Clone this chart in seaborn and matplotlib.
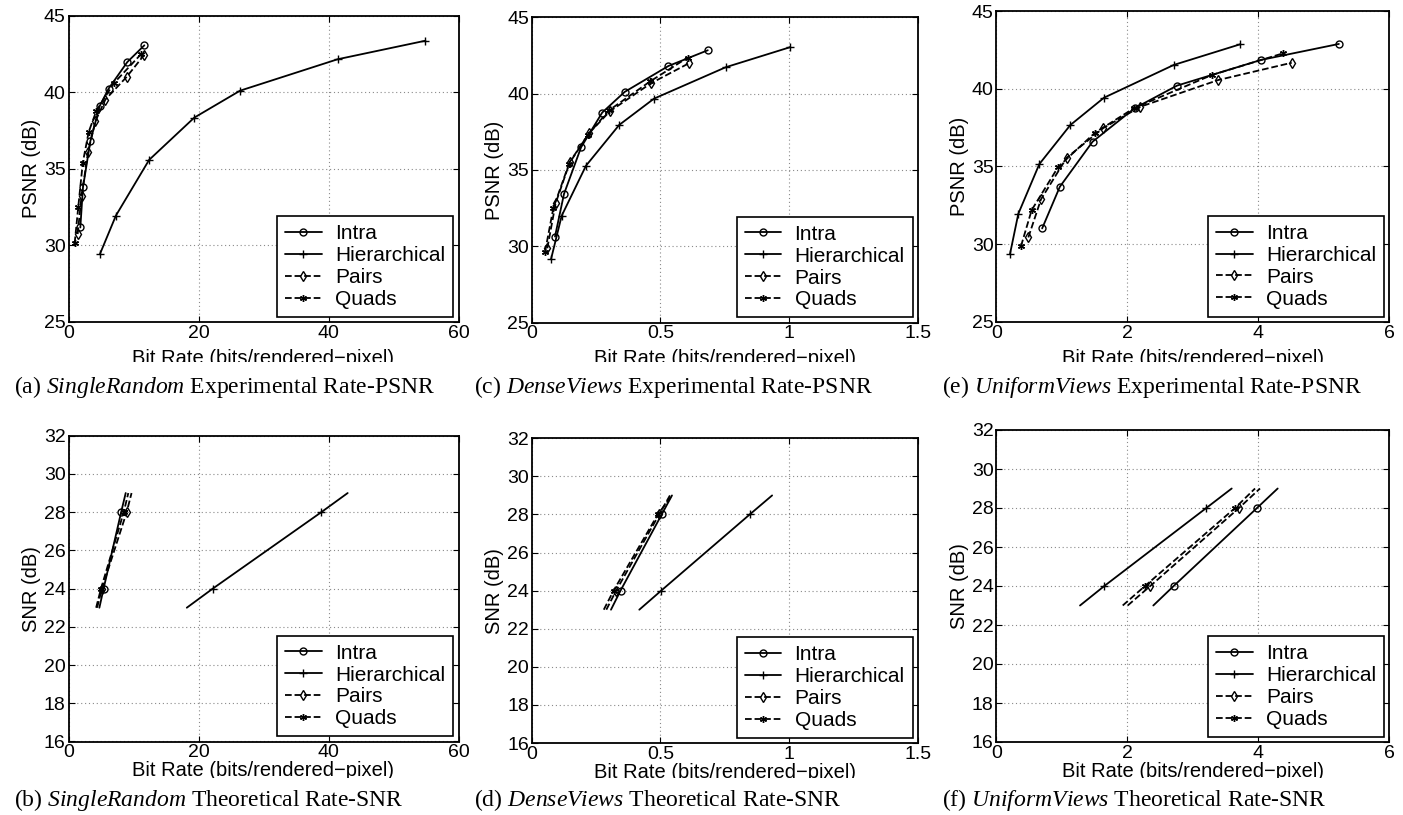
import numpy as np
import pandas as pd
import matplotlib
matplotlib.use("Agg")
import matplotlib.pyplot as plt
import seaborn as sns
from matplotlib.lines import Line2D
from matplotlib.patches import Rectangle

sns.set_theme(style="white")
plt.rcParams['font.family'] = ['Liberation Sans', 'DejaVu Sans']
plt.rcParams['text.color'] = 'black'
plt.rcParams['axes.labelcolor'] = 'black'
plt.rcParams['mathtext.fontset'] = 'custom'
plt.rcParams['mathtext.rm'] = 'Liberation Serif'
plt.rcParams['mathtext.it'] = 'Liberation Serif:italic'

series = ["Intra", "Hierarchical", "Pairs", "Quads"]

# ---------------- (a) SingleRandom experimental ----------------
a_intra_x = [1.82, 2.23, 3.36, 4.8, 6.18, 9.05, 11.67]
a_intra_y = [31.17, 33.8, 36.8, 39.1, 40.24, 41.97, 43.06]
a_hier_x = [4.85, 7.3, 12.4, 19.35, 26.4, 41.4, 54.9]
a_hier_y = [29.45, 31.95, 35.58, 38.34, 40.1, 42.15, 43.36]
a_pairs_x = [1.41, 2.0, 3.0, 4.13, 5.67, 8.95, 11.67]
a_pairs_y = [30.74, 33.2, 36.07, 38.1, 39.52, 41.0, 42.45]
a_quads_x = [0.95, 1.5, 2.2, 3.1, 4.3, 7.0, 11.2]
a_quads_y = [30.15, 32.5, 35.4, 37.4, 38.8, 40.6, 42.5]

# ---------------- (c) DenseViews experimental ----------------
c_intra_x = [0.0905, 0.1255, 0.192, 0.274, 0.361, 0.531, 0.684]
c_intra_y = [30.64, 33.43, 36.49, 38.76, 40.11, 41.81, 42.84]
c_hier_x = [0.075, 0.1165, 0.211, 0.34, 0.475, 0.754, 1.0035]
c_hier_y = [29.15, 32.0, 35.28, 37.95, 39.67, 41.73, 43.04]
c_pairs_x = [0.0607, 0.093, 0.149, 0.2226, 0.304, 0.4635, 0.611]
c_pairs_y = [29.87, 32.82, 35.55, 37.4, 38.85, 40.68, 41.99]
c_quads_x = [0.052, 0.084, 0.145, 0.218, 0.3, 0.46, 0.606]
c_quads_y = [29.65, 32.5, 35.4, 37.3, 38.9, 40.8, 42.36]

# ---------------- (e) UniformViews experimental ----------------
e_intra_x = [0.70, 0.97, 1.47, 2.11, 2.76, 4.04, 5.23]
e_intra_y = [31.01, 33.69, 36.59, 38.74, 40.2, 41.85, 42.88]
e_hier_x = [0.209, 0.336, 0.657, 1.13, 1.644, 2.71, 3.725]
e_hier_y = [29.36, 31.95, 35.15, 37.66, 39.42, 41.53, 42.86]
e_pairs_x = [0.489, 0.682, 1.075, 1.634, 2.2, 3.39, 4.51]
e_pairs_y = [30.43, 32.88, 35.56, 37.47, 38.84, 40.56, 41.67]
e_quads_x = [0.377, 0.54, 0.947, 1.507, 2.1, 3.29, 4.38]
e_quads_y = [29.87, 32.19, 34.98, 37.17, 38.74, 40.88, 42.28]

# ---------------- theoretical (SNR levels shared) ----------------
snr_levels = [23, 24, 28, 29]
b_intra_x = [4.75, 5.4, 8.1, 8.8]
b_hier_x = [18.2, 22.2, 38.9, 42.95]
b_pairs_x = [4.4, 5.15, 8.95, 9.7]
b_quads_x = [4.25, 5.0, 8.5, 9.2]

d_intra_x = [0.308, 0.345, 0.505, 0.545]
d_hier_x = [0.418, 0.503, 0.847, 0.934]
d_pairs_x = [0.29, 0.328, 0.495, 0.537]
d_quads_x = [0.28, 0.318, 0.49, 0.545]

f_intra_x = [2.397, 2.708, 3.98, 4.296]
f_hier_x = [1.278, 1.649, 3.206, 3.594]
f_pairs_x = [2.006, 2.351, 3.705, 4.026]
f_quads_x = [1.93, 2.27, 3.645, 3.95]

captions = [
    ("a", "SingleRandom", "Experimental Rate-PSNR"),
    ("b", "SingleRandom", "Theoretical Rate-SNR"),
    ("c", "DenseViews", "Experimental Rate-PSNR"),
    ("d", "DenseViews", "Theoretical Rate-SNR"),
    ("e", "UniformViews", "Experimental Rate-PSNR"),
    ("f", "UniformViews", "Theoretical Rate-SNR"),
]

ASTER = (6, 2, 0)
styles = {
    "Intra": dict(linestyle="-", marker="o", markersize=5, markerfacecolor="none"),
    "Hierarchical": dict(linestyle="-", marker="+", markersize=6, markerfacecolor="none"),
    "Pairs": dict(linestyle="--", marker="d", markersize=5.5, markerfacecolor="none"),
    "Quads": dict(linestyle="--", marker=ASTER, markersize=5, markerfacecolor="none"),
}

W, H = 1403, 815
fig = plt.figure(figsize=(W / 100, H / 100), dpi=100)


def px_axes(left, top, right, bottom):
    return fig.add_axes([left / W, 1 - bottom / H, (right - left) / W, (bottom - top) / H])


FS = 14
LW = 1.3


def style_axes(ax, xlim, xticks, ylim, yticks, ylabel, xlabelpad):
    ax.set_xlim(*xlim)
    ax.set_ylim(*ylim)
    ax.set_xticks(xticks)
    ax.set_yticks(yticks)
    ax.set_xticklabels([("%g" % t) for t in xticks], fontsize=FS)
    ax.set_yticklabels([("%g" % t) for t in yticks], fontsize=FS)
    ax.grid(True, linestyle=(0, (1, 2.5)), color="#8a8a8a", linewidth=0.8)
    ax.set_axisbelow(True)
    for s in ax.spines.values():
        s.set_color("black")
        s.set_linewidth(1.3)
        s.set_visible(True)
    ax.tick_params(direction="in", length=4, width=0.8, color="black",
                   top=True, right=True, bottom=True, left=True, pad=2,
                   labelcolor="black")
    ax.set_xlabel("Bit Rate (bits/rendered\u2212pixel)", fontsize=FS + 0.5,
                  labelpad=xlabelpad, color="black")
    ax.set_ylabel(ylabel, fontsize=FS + 0.5, labelpad=2, color="black")
    handles = [Line2D([], [], color="black", linewidth=LW, markeredgecolor="black",
                      markeredgewidth=1.0, **styles[n]) for n in series]
    leg = ax.legend(handles, series, loc="lower right", fontsize=15, frameon=True,
                    fancybox=False, framealpha=1, edgecolor="black", borderpad=0.38,
                    labelspacing=0.14, handlelength=1.75, handletextpad=0.65,
                    borderaxespad=0.25, numpoints=1, labelcolor="black")
    leg.get_frame().set_linewidth(1.2)


def draw_exp(ax, data):
    for name, (x, y) in zip(series, data):
        df = pd.DataFrame({"rate": x, "psnr": y})
        sns.lineplot(data=df, x="rate", y="psnr", ax=ax, sort=False, estimator=None,
                     color="black", linewidth=LW, markeredgecolor="black",
                     markeredgewidth=1.0, **styles[name])


def draw_theo(ax, data):
    for name, x in zip(series, data):
        df = pd.DataFrame({"rate": x, "snr": snr_levels})
        sns.lineplot(data=df, x="rate", y="snr", ax=ax, sort=False, estimator=None,
                     color="black", linewidth=LW, markeredgecolor="black",
                     markeredgewidth=1.0, markevery=[1, 2], **styles[name])


# top row
ax_a = px_axes(68.5, 15.6, 458.5, 322)
draw_exp(ax_a, [(a_intra_x, a_intra_y), (a_hier_x, a_hier_y), (a_pairs_x, a_pairs_y), (a_quads_x, a_quads_y)])
style_axes(ax_a, (0, 60), [0, 20, 40, 60], (25, 45), [25, 30, 35, 40, 45], "PSNR (dB)", 5)

ax_c = px_axes(531.7, 17.3, 917.8, 322.6)
draw_exp(ax_c, [(c_intra_x, c_intra_y), (c_hier_x, c_hier_y), (c_pairs_x, c_pairs_y), (c_quads_x, c_quads_y)])
style_axes(ax_c, (0, 1.5), [0, 0.5, 1, 1.5], (25, 45), [25, 30, 35, 40, 45], "PSNR (dB)", 5)

ax_e = px_axes(996.3, 11, 1389.3, 321.8)
draw_exp(ax_e, [(e_intra_x, e_intra_y), (e_hier_x, e_hier_y), (e_pairs_x, e_pairs_y), (e_quads_x, e_quads_y)])
style_axes(ax_e, (0, 6), [0, 2, 4, 6], (25, 45), [25, 30, 35, 40, 45], "PSNR (dB)", 5)

# bottom row
snr_ticks = [16, 18, 20, 22, 24, 26, 28, 30, 32]
ax_b = px_axes(68.5, 435.7, 458.5, 741.5)
draw_theo(ax_b, [b_intra_x, b_hier_x, b_pairs_x, b_quads_x])
style_axes(ax_b, (0, 60), [0, 20, 40, 60], (16, 32), snr_ticks, "SNR (dB)", 0)

ax_d = px_axes(531.7, 438.3, 917.8, 743)
draw_theo(ax_d, [d_intra_x, d_hier_x, d_pairs_x, d_quads_x])
style_axes(ax_d, (0, 1.5), [0, 0.5, 1, 1.5], (16, 32), snr_ticks, "SNR (dB)", 0)

ax_f = px_axes(996.3, 430, 1389.3, 742)
draw_theo(ax_f, [f_intra_x, f_hier_x, f_pairs_x, f_quads_x])
style_axes(ax_f, (0, 6), [0, 2, 4, 6], (16, 32), snr_ticks, "SNR (dB)", 0)

# white masks that clip the lower part of the x labels (as in the cropped sub-figures)
for ytop, ybot in [(362, 374), (778, 787)]:
    fig.patches.append(Rectangle((0, 1 - ybot / H), 1, (ybot - ytop) / H,
                                 transform=fig.transFigure, facecolor="white",
                                 edgecolor="none", zorder=5))

cap_pos = {"a": (14, 387), "c": (474, 387), "e": (942, 387),
           "b": (14, 800), "d": (474, 800), "f": (942, 800)}
for letter, name, rest in captions:
    x, y = cap_pos[letter]
    fig.text(x / W, 1 - y / H, "(%s) $\\mathit{%s}$ %s" % (letter, name, rest),
             fontsize=17, family="Liberation Serif", ha="left", va="center",
             color="black", zorder=6)

fig.savefig("out.png", dpi=100, facecolor="white")
